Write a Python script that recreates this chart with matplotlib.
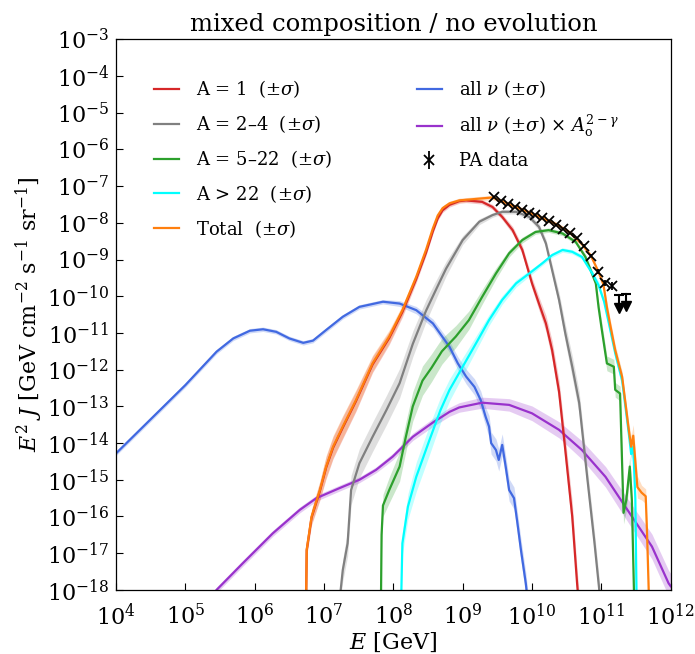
import numpy as np
import matplotlib
matplotlib.use('Agg')
import matplotlib.pyplot as plt
from matplotlib.ticker import LogLocator, NullLocator

plt.rcParams['font.family'] = 'serif'
plt.rcParams['font.serif'] = ['DejaVu Serif']
plt.rcParams['mathtext.fontset'] = 'dejavuserif'

# all values are log10: E in GeV, E^2 J in GeV cm^-2 s^-1 sr^-1, sig = half band width (decades)

# A = 1
p_logE = [6.74, 6.75, 6.82, 6.94, 7.03, 7.13, 7.27, 7.46, 7.70, 7.94, 8.13, 8.33, 8.47, 8.57, 8.64, 8.71,
          8.81, 8.95, 9.05, 9.28, 9.43, 9.57, 9.72, 9.86, 10.0, 10.1, 10.2, 10.29, 10.39, 10.48, 10.58,
          10.65, 10.68]
p_logJ = [-18.5, -16.92, -16.03, -15.31, -14.67, -14.13, -13.58, -12.86, -11.86, -11.14, -10.43, -9.53,
          -8.82, -8.23, -7.88, -7.66, -7.51, -7.41, -7.39, -7.43, -7.57, -7.84, -8.2, -8.74, -9.65, -10.2,
          -10.74, -11.47, -12.6, -14.19, -16.0, -17.82, -18.5]
p_sig = [0.1, 0.15, 0.2, 0.25, 0.3, 0.3, 0.3, 0.28, 0.22, 0.18, 0.14, 0.1, 0.08, 0.07, 0.06, 0.06, 0.06,
         0.06, 0.06, 0.06, 0.07, 0.08, 0.1, 0.12, 0.15, 0.18, 0.22, 0.26, 0.3, 0.35, 0.4, 0.4, 0.4]

# A = 2-4
he_logE = [7.22, 7.24, 7.27, 7.34, 7.39, 7.51, 7.70, 7.90, 8.09, 8.28, 8.47, 8.62, 8.76, 9.0, 9.24,
           9.43, 9.57, 9.77, 9.96, 10.1, 10.2, 10.29, 10.39, 10.48, 10.58, 10.68, 10.80, 10.90, 10.97,
           10.99]
he_logJ = [-18.5, -18.0, -17.46, -16.73, -15.28, -14.55, -13.83, -13.1, -12.37, -11.3, -10.4, -9.8,
           -9.25, -8.47, -7.97, -7.79, -7.7, -7.7, -7.84, -8.11, -8.56, -9.29, -10.1, -11.01, -11.92,
           -12.9, -15.0, -16.7, -18.0, -18.5]
he_sig = [0.1, 0.2, 0.3, 0.35, 0.4, 0.4, 0.4, 0.4, 0.4, 0.35, 0.3, 0.25, 0.2, 0.12, 0.08, 0.06, 0.06,
          0.06, 0.07, 0.09, 0.12, 0.15, 0.2, 0.25, 0.3, 0.3, 0.3, 0.3, 0.3, 0.3]

# A = 5-22
cno_logE = [7.82, 7.83, 7.85, 7.94, 8.09, 8.18, 8.28, 8.42, 8.55, 8.70, 8.90, 9.09, 9.28, 9.48, 9.67,
            9.86, 10.05, 10.24, 10.44, 10.63, 10.77, 10.92, 10.96, 11.00, 11.08, 11.18, 11.20, 11.27,
            11.32, 11.36, 11.41, 11.44, 11.47, 11.48]
cno_logJ = [-18.5, -16.5, -15.7, -15.28, -14.64, -13.83, -13.0, -12.3, -11.95, -11.5, -11.1, -10.65,
            -10.02, -9.38, -8.83, -8.47, -8.25, -8.2, -8.29, -8.52, -8.93, -9.65, -10.3, -10.83, -11.83,
            -11.92, -12.55, -12.65, -15.9, -15.55, -14.64, -15.55, -18.0, -18.5]
cno_sig = [0.1, 0.2, 0.3, 0.35, 0.4, 0.4, 0.4, 0.4, 0.38, 0.35, 0.3, 0.25, 0.2, 0.15, 0.1, 0.08, 0.06,
           0.06, 0.06, 0.06, 0.08, 0.1, 0.15, 0.2, 0.2, 0.2, 0.2, 0.2, 0.3, 0.3, 0.3, 0.3, 0.3, 0.3]

# A > 22
fe_logE = [8.11, 8.12, 8.13, 8.21, 8.33, 8.52, 8.68, 8.81, 9.0, 9.19, 9.38, 9.57, 9.77, 9.96, 10.15,
           10.29, 10.44, 10.58, 10.72, 10.87, 10.96, 11.04, 11.11, 11.20, 11.30, 11.40, 11.43, 11.46,
           11.49, 11.51]
fe_logJ = [-18.5, -17.6, -16.73, -15.73, -14.92, -13.92, -13.1, -12.55, -11.92, -11.29, -10.65, -10.1,
           -9.65, -9.38, -9.1, -8.88, -8.74, -8.79, -8.93, -9.38, -9.7, -10.15, -10.75, -11.55, -12.3,
           -13.8, -14.3, -14.1, -15.5, -18.5]
fe_sig = [0.1, 0.2, 0.3, 0.35, 0.4, 0.4, 0.35, 0.3, 0.25, 0.2, 0.15, 0.12, 0.1, 0.08, 0.06, 0.06, 0.06,
          0.06, 0.06, 0.08, 0.1, 0.1, 0.15, 0.15, 0.2, 0.2, 0.2, 0.2, 0.2, 0.2]

# total
tot_logE = [6.74, 6.75, 6.82, 6.94, 7.03, 7.13, 7.27, 7.46, 7.70, 7.94, 8.13, 8.33, 8.47, 8.57, 8.64,
            8.71, 8.81, 8.95, 9.19, 9.43, 9.55, 9.75, 9.95, 10.15, 10.35, 10.55, 10.72, 10.85, 10.95,
            11.03, 11.08, 11.13, 11.20, 11.30, 11.40, 11.43, 11.46, 11.52, 11.58, 11.64, 11.66, 11.68,
            11.69]
tot_logJ = [-18.5, -16.9, -16.0, -15.28, -14.64, -14.1, -13.55, -12.83, -11.83, -11.1, -10.38, -9.47,
            -8.74, -8.15, -7.8, -7.6, -7.47, -7.39, -7.35, -7.31, -7.40, -7.56, -7.71, -7.87, -8.04,
            -8.27, -8.58, -8.9, -9.3, -9.68, -10.3, -10.8, -11.47, -12.2, -13.7, -14.1, -13.8, -15.2,
            -15.35, -15.45, -16.5, -17.8, -18.5]
tot_sig = [0.1, 0.15, 0.2, 0.25, 0.3, 0.3, 0.3, 0.28, 0.22, 0.18, 0.14, 0.1, 0.08, 0.07, 0.06, 0.06,
           0.06, 0.06, 0.06, 0.06] + [0.06] * 9 + [0.1, 0.15, 0.15, 0.15, 0.15, 0.2, 0.3, 0.3, 0.3,
                                                   0.2, 0.2, 0.2, 0.2, 0.2]

# all neutrinos
nu_logE = [4.0, 4.5, 5.0, 5.45, 5.69, 5.93, 6.12, 6.31, 6.5, 6.7, 6.84, 7.03, 7.27, 7.51, 7.85, 8.09,
           8.33, 8.57, 8.81, 8.93, 9.05, 9.17, 9.26, 9.33, 9.38, 9.41, 9.48, 9.52, 9.57, 9.62, 9.67,
           9.74, 9.79, 9.84, 9.91, 9.95]
nu_logJ = [-14.28, -13.35, -12.42, -11.51, -11.15, -10.94, -10.9, -10.97, -11.15, -11.27, -11.21,
           -10.92, -10.56, -10.29, -10.15, -10.2, -10.38, -10.74, -11.38, -11.83, -12.19, -12.47,
           -12.83, -13.28, -13.55, -14.0, -14.19, -14.46, -14.05, -14.64, -15.28, -15.5, -16.19,
           -16.91, -17.82, -18.5]
nu_sig = [0.06] * 15 + [0.08, 0.1, 0.12, 0.15, 0.18, 0.2, 0.22, 0.25, 0.25, 0.3, 0.3, 0.3, 0.3, 0.3,
                        0.3, 0.3, 0.3, 0.3, 0.3, 0.3, 0.3]

# all neutrinos x A_o^(2-gamma)
nuA_logE = [5.40, 5.45, 5.83, 6.26, 6.65, 6.89, 7.22, 7.51, 7.75, 7.99, 8.28, 8.57, 8.81, 8.95, 9.28,
            9.67, 10.0, 10.39, 10.72, 11.06, 11.44, 11.73, 11.97, 12.0]
nuA_logJ = [-18.12, -18.0, -17.27, -16.46, -15.82, -15.5, -15.23, -15.0, -14.73, -14.37, -13.83,
            -13.44, -13.15, -13.03, -12.9, -12.96, -13.19, -13.64, -14.19, -14.92, -16.0, -16.82,
            -17.82, -17.9]
nuA_sig = [0.08] * 9 + [0.09, 0.1, 0.11, 0.12, 0.13, 0.15, 0.17, 0.2, 0.22, 0.25, 0.28, 0.32, 0.34,
                        0.35, 0.35]

# PA data points and upper limits
pa_logE = [9.45, 9.55, 9.65, 9.75, 9.85, 9.95, 10.05, 10.15, 10.25, 10.35, 10.45, 10.55, 10.65, 10.75,
           10.85, 10.95, 11.05, 11.15]
pa_logJ = [-7.29, -7.40, -7.49, -7.57, -7.65, -7.72, -7.80, -7.88, -7.96, -8.05, -8.16, -8.28, -8.42,
           -8.62, -8.90, -9.33, -9.63, -9.72]
pa_err = [0.01] * 10 + [0.02, 0.02, 0.03, 0.03, 0.04, 0.06, 0.08, 0.1]
ul_logE = [11.25, 11.35]
ul_logJ = [-9.98, -9.93]
ul_len = 0.35

curves = [
    (nu_logE, nu_logJ, nu_sig, 'royalblue', r'all $\nu$ $(\pm\sigma)$'),
    (nuA_logE, nuA_logJ, nuA_sig, 'darkorchid', r'all $\nu$ $(\pm\sigma)$ $\times\ A_{\rm o}^{2-\gamma}$'),
    (p_logE, p_logJ, p_sig, '#d62728', r'A = 1  $(\pm\sigma)$'),
    (he_logE, he_logJ, he_sig, 'gray', r'A = 2–4  $(\pm\sigma)$'),
    (cno_logE, cno_logJ, cno_sig, '#2ca02c', r'A = 5–22  $(\pm\sigma)$'),
    (fe_logE, fe_logJ, fe_sig, 'cyan', r'A > 22  $(\pm\sigma)$'),
    (tot_logE, tot_logJ, tot_sig, '#ff7f0e', r'Total  $(\pm\sigma)$'),
]

fig = plt.figure(figsize=(6.95, 6.54), dpi=100)
ax = fig.add_axes([0.167, 0.098, 0.798, 0.842])

handles = {}
for logE, logJ, sig, col, lab in curves:
    E = 10 ** np.array(logE)
    J = np.array(logJ)
    s = np.array(sig)
    ax.fill_between(E, 10 ** (J - s), 10 ** (J + s), color=col, alpha=0.25, lw=0, zorder=1)
    handles[lab], = ax.plot(E, 10 ** J, color=col, lw=1.6, zorder=2, label=lab)

pa = ax.errorbar(10 ** np.array(pa_logE), 10 ** np.array(pa_logJ),
                 yerr=[10 ** np.array(pa_logJ) * (1 - 10 ** -np.array(pa_err)),
                       10 ** np.array(pa_logJ) * (10 ** np.array(pa_err) - 1)],
                 fmt='x', color='black', ms=7, mew=1.3, elinewidth=1.3, capsize=0, zorder=5)
for le, lj in zip(ul_logE, ul_logJ):
    ax.plot([10 ** le, 10 ** le], [10 ** lj, 10 ** (lj - ul_len)], color='black', lw=1.5, zorder=5)
    ax.plot([10 ** le], [10 ** lj], marker='_', ms=7, mew=1.5, color='black', zorder=5)
    ax.plot([10 ** le], [10 ** (lj - ul_len)], marker='v', ms=7, color='black', zorder=5)

ax.set_xscale('log')
ax.set_yscale('log')
ax.set_xlim(1e4, 1e12)
ax.set_ylim(1e-18, 1e-3)
ax.xaxis.set_major_locator(LogLocator(base=10, numticks=20))
ax.yaxis.set_major_locator(LogLocator(base=10, numticks=20))
ax.xaxis.set_minor_locator(NullLocator())
ax.yaxis.set_minor_locator(NullLocator())
ax.tick_params(direction='in', length=5, width=0.8, labelsize=16, pad=5)
ax.tick_params(axis='x', pad=10)
for sp in ax.spines.values():
    sp.set_linewidth(0.9)

ax.set_xlabel(r'$E$ [GeV]', fontsize=16, labelpad=0)
ax.set_ylabel(r'$E^2\ J$ [GeV cm$^{-2}$ s$^{-1}$ sr$^{-1}$]', fontsize=16, labelpad=1)
ax.set_title('mixed composition / no evolution', fontsize=17.5, pad=6)

left_labels = [c[4] for c in curves[2:]]
right_labels = [c[4] for c in curves[:2]]
h1 = [handles[l] for l in left_labels]
leg1 = ax.legend(h1, left_labels, loc='upper left', bbox_to_anchor=(0.068, 0.929), frameon=False,
                 fontsize=13, handlelength=1.4, handletextpad=0.95, labelspacing=0.72,
                 borderpad=0, borderaxespad=0)
ax.add_artist(leg1)
h2 = [handles[l] for l in right_labels] + [pa]
ax.legend(h2, right_labels + ['PA data'], loc='upper left', bbox_to_anchor=(0.542, 0.929),
          frameon=False, fontsize=13, handlelength=1.4, handletextpad=0.95, labelspacing=0.72,
          borderpad=0, borderaxespad=0)

fig.savefig('out.png', dpi=100)
